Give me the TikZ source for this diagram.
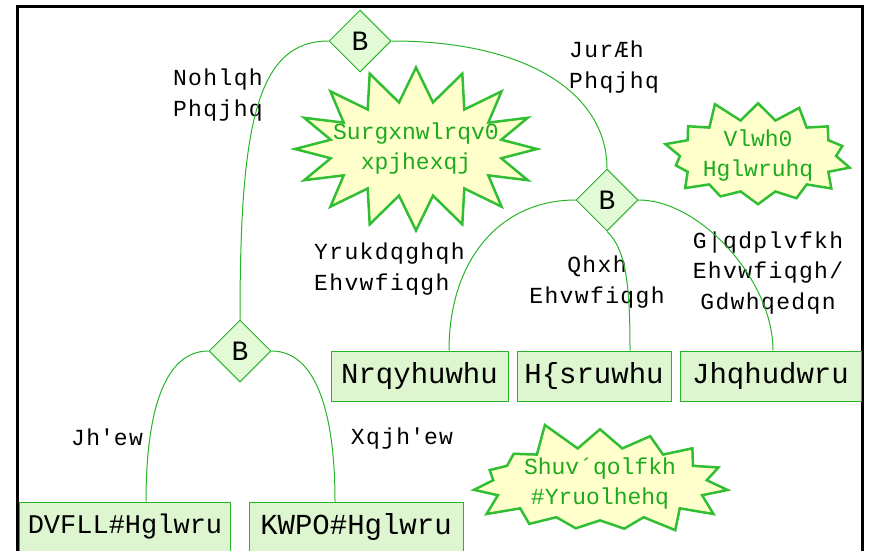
\documentclass[tikz,border=0pt]{standalone}
\usepackage{fontspec}
\setmainfont{Liberation Mono}
\newfontfamily\lblfont[LetterSpace=6]{Liberation Mono}
\usetikzlibrary{shapes.geometric,shapes.symbols}
\definecolor{lg}{RGB}{40,180,40}
\definecolor{boxfill}{RGB}{221,246,208}
\definecolor{diafill}{RGB}{226,250,214}
\definecolor{starfill}{RGB}{255,255,204}
\definecolor{starline}{RGB}{50,190,50}
\definecolor{startext}{RGB}{30,170,30}
\begin{document}
\begin{tikzpicture}[x=1pt,y=-1pt,
  dec/.style={diamond, draw=lg, fill=diafill, line width=1pt, minimum width=62pt, minimum height=62pt, inner sep=0pt, font=\fontsize{28}{28}\selectfont},
  rbox/.style={draw=lg, fill=boxfill, line width=1pt, minimum height=50pt, inner sep=0pt, font=\fontsize{29}{29}\selectfont},
  burst/.style={starburst, draw=starline, fill=starfill, line width=2.5pt, text=startext, align=center, font=\fontsize{23}{30}\selectfont, inner sep=0pt},
  lbl/.style={font=\lblfont\fontsize{23}{30.5}\selectfont, inner sep=0pt},
  conn/.style={draw=lg, line width=1pt}]
\useasboundingbox (0,0) rectangle (872,551);
\draw[line width=3pt] (17.5,560) -- (17.5,7) -- (862.5,7) -- (862.5,560);

% decisions
\node[dec] (d1) at (360,41) {B};
\node[dec] (d2) at (607,200) {B};
\node[dec] (d3) at (240,351) {B};

% boxes
\node[rbox, minimum width=177pt] (k1) at (419.5,376) {Nrqyhuwhu};
\node[rbox, minimum width=154pt] (k2) at (594,376) {H\{sruwhu};
\node[rbox, minimum width=181pt] (k3) at (770.5,376) {Jhqhudwru};
\node[rbox, minimum width=211pt, font=\fontsize{27}{27}\selectfont] (a1) at (125,527) {DVFLL\#Hglwru};
\node[rbox, minimum width=214pt] (a2) at (356,527) {KWPO\#Hglwru};

% starbursts
\node[burst, starburst points=16, starburst point height=34pt, random starburst=0, minimum width=238pt, minimum height=163pt] (s1) at (416,149) {\makebox[123pt]{Surgxnwlrqv0}\\\makebox[123pt]{xpjhexqj}};
\node[burst, starburst points=14, starburst point height=22pt, random starburst=11, minimum width=187pt, minimum height=82pt] (s2) at (758,156) {Vlwh0\\Hglwruhq};
\node[burst, starburst points=15, starburst point height=30pt, random starburst=5, minimum width=243pt, minimum height=116pt] (s3) at (600,484) {Shuv´qolfkh\\\#Yruolhehq};

% labels
\node[lbl, anchor=east, align=right] (l1) at (263,95) {Nohlqh\\Phqjhq};
\node[lbl, anchor=west, align=left] (l2) at (569,67) {JurÆh\\Phqjhq};
\node[lbl, anchor=west, align=left] (l3) at (314,269) {Yrukdqghqh\\Ehvwfiqgh};
\node[lbl, align=center] (l4) at (597,282) {Qhxh\\Ehvwfiqgh};
\node[lbl, align=center] (l5) at (768,273) {G|qdplvfkh\\Ehvwfiqgh/\\Gdwhqedqn};
\node[lbl] (l6) at (107,437) {Jh\textquotesingle ew};
\node[lbl] (l7) at (402,439) {Xqjh\textquotesingle ew};

% connectors
\draw[conn] (d1.west) .. controls (255,41) and (240,130) .. (d3.north);
\draw[conn] (d1.east) .. controls (530,41) and (607,95) .. (d2.north);
\draw[conn] (d2.west) .. controls (500,200) and (449,260) .. ([xshift=29.5pt]k1.north);
\draw[conn] (d2.south) .. controls (627,250) and (630,290) .. ([xshift=36pt]k2.north);
\draw[conn] (d2.east) .. controls (700,200) and (773,280) .. ([xshift=2.5pt]k3.north);
\draw[conn] (d3.west) .. controls (163,351) and (146,415) .. ([xshift=21pt]a1.north);
\draw[conn] (d3.east) .. controls (317,351) and (335,415) .. ([xshift=-21pt]a2.north);
\end{tikzpicture}
\end{document}
